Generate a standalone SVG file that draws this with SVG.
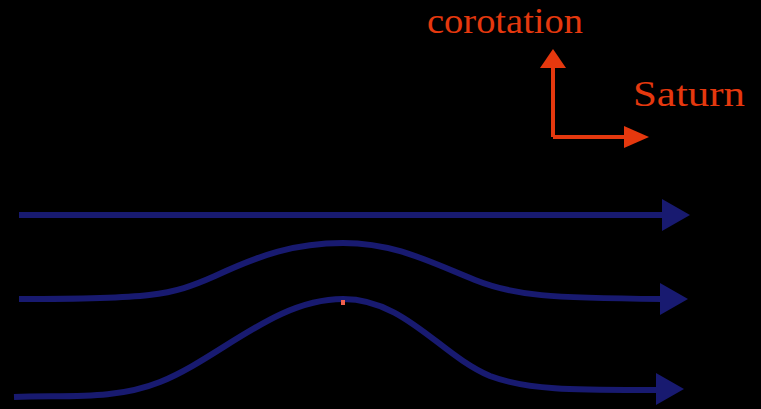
<svg xmlns="http://www.w3.org/2000/svg" width="761" height="409" viewBox="0 0 761 409">
<style>
.flow{fill:none;stroke:#181a70;stroke-width:6;stroke-linecap:butt}
.flowhead{fill:#181a70}
.axis{fill:none;stroke:#e5380e;stroke-width:4}
.axishead{fill:#e5380e}
.lbl{font-family:"Liberation Serif","Times New Roman",serif;font-size:36px;fill:#e5380e}
</style>
<rect width="761" height="409" fill="#000"/>
<g id="axes">
<path class="axis" d="M553,137 V66 M553,137 H625"/>
<polygon class="axishead" points="553,49 566,68 540,68"/>
<polygon class="axishead" points="649,137 624,126 624,148"/>
<text class="lbl" x="427" y="33" textLength="156" lengthAdjust="spacingAndGlyphs">corotation</text>
<text class="lbl" x="633" y="106" textLength="112" lengthAdjust="spacingAndGlyphs">Saturn</text>
</g>
<g id="connectors">
<path class="flow" d="M19,215 H664"/>
<polygon class="flowhead" points="690,215 662,199 662,231"/>
<path class="flow" d="M19,299 C150,299 170,296 215,276 C260,255 295,243 343,243 C395,243 430,262 475,280 C515,296 550,298 662,299"/>
<polygon class="flowhead" points="688,299 660,283 660,315"/>
<path class="flow" d="M14,397 C70,395 115,400 160,382 C220,358 275,299 343,299 C405,299 440,355 490,376 C530,391 580,390 658,390"/>
<polygon class="flowhead" points="684,389 656,373 656,405"/>
</g>
<rect id="marker-dot" x="341" y="300" width="4" height="5" fill="#f0604c"/>
</svg>
